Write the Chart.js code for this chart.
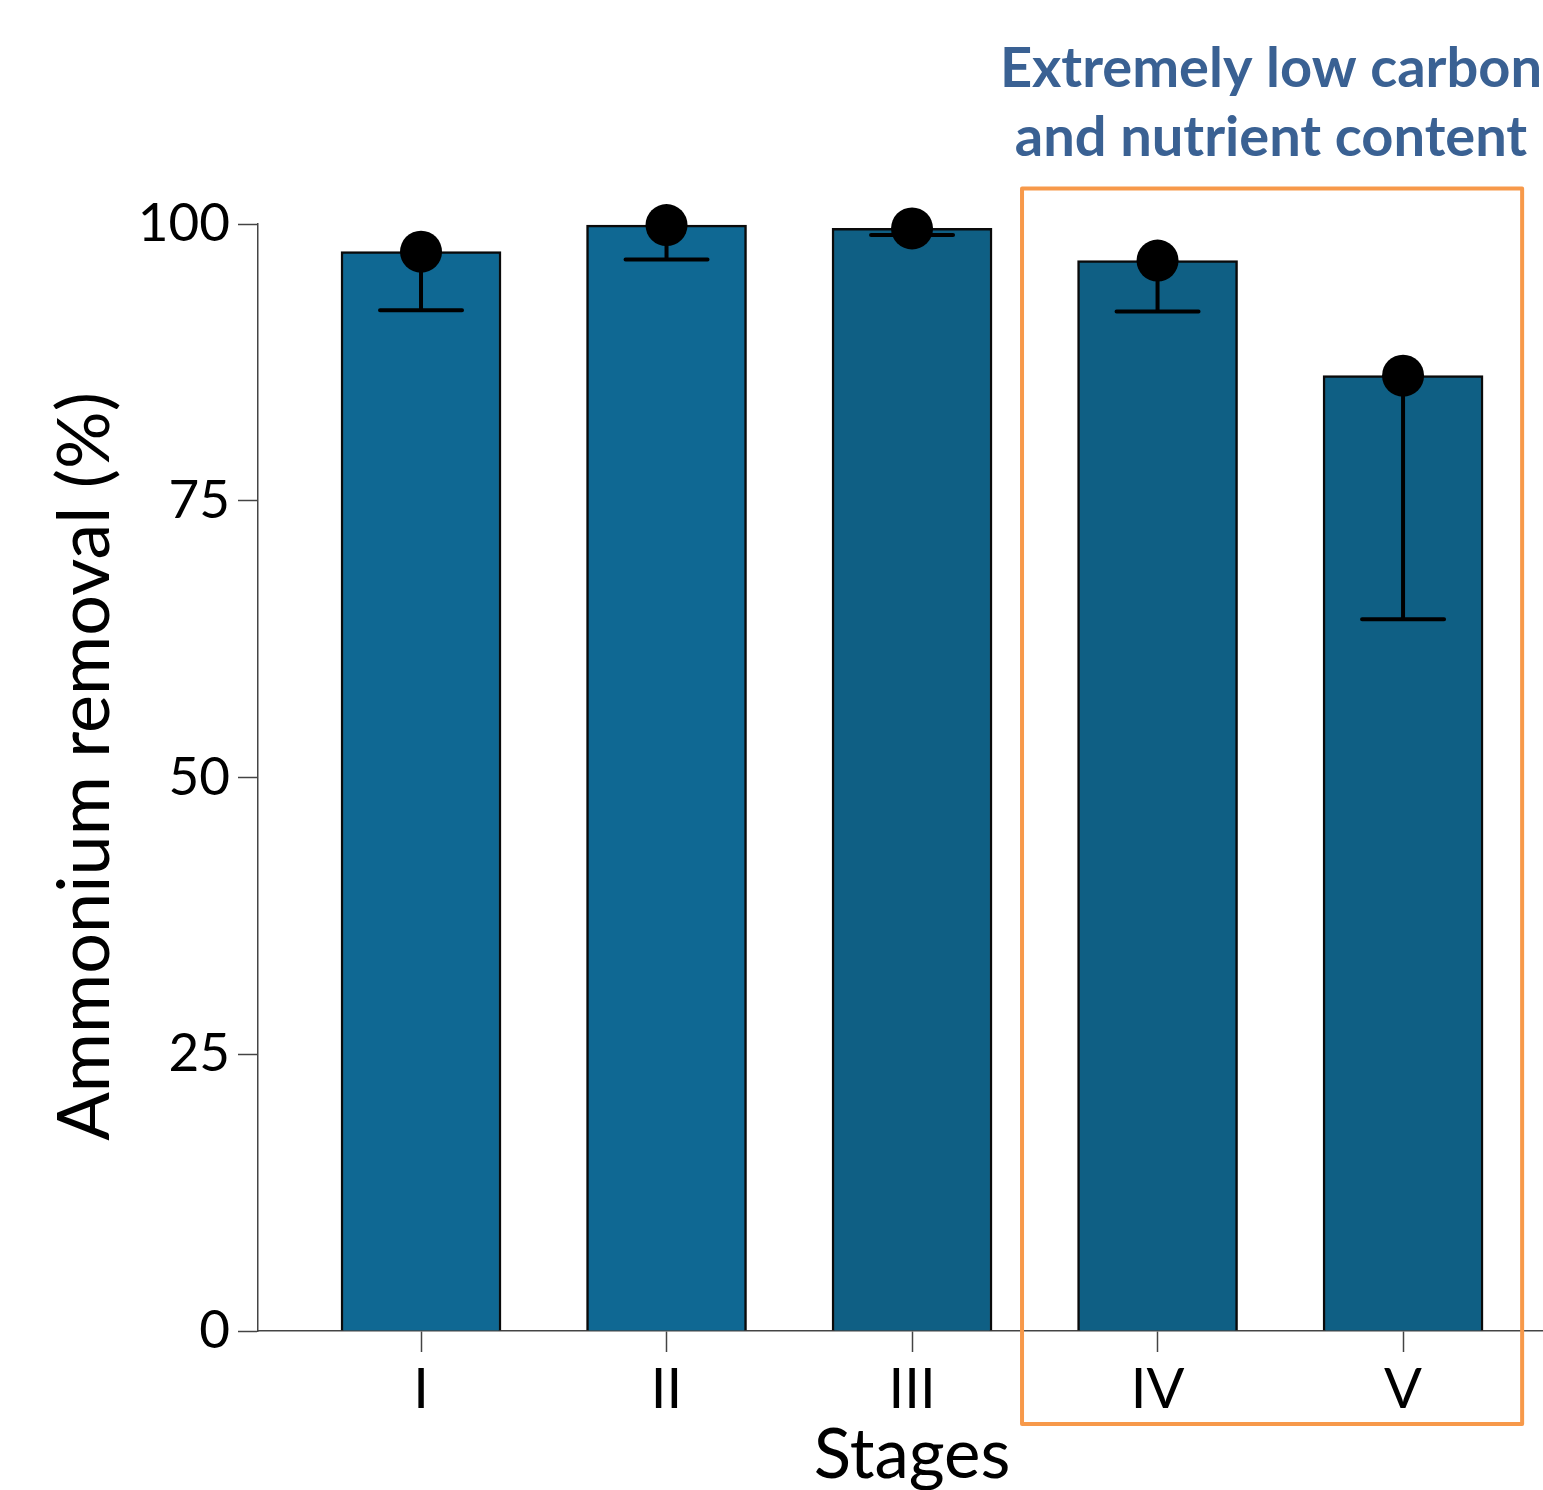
<!DOCTYPE html>
<html>
<head>
<meta charset="utf-8">
<title>Ammonium removal by stage</title>
<script src="https://cdn.jsdelivr.net/npm/chart.js@4.4.1/dist/chart.umd.min.js"></script>
<style>
    html, body { margin: 0; padding: 0; background: #ffffff; }
    canvas { display: block; }
</style>
</head>
<body>
<canvas id="chartRemoval" width="1543" height="1490"></canvas>
<script>
// stage positions on the x axis and their labels
const stagePositions = [1, 2, 3, 4, 5];
const stageLabels = ['I', 'II', 'III', 'IV', 'V'];

// mean ammonium removal (%) and lower end of the error bar
const removalMean = [97.5, 99.9, 99.6, 96.7, 86.3];
const removalLower = [92.2, 96.8, 99.0, 92.1, 64.3];

const yTicks = [0, 25, 50, 75, 100];

const barColors = ['#0f6893', '#0f6893', '#0f5f84', '#0f5f84', '#0f5f84'];

// highlighted region (stages IV and V)
const highlightText = ['Extremely low carbon', 'and nutrient content'];

const FONT = 'Lato, "Open Sans", sans-serif';

const errorBarPlugin = {
    id: 'errorBars',
    afterDatasetDraw(chart, args) {
        if (args.meta.type !== 'bar') return;
        const {ctx, scales: {x, y}} = chart;
        ctx.save();
        ctx.strokeStyle = '#000000';
        ctx.lineWidth = 4;
        ctx.lineCap = 'round';
        stagePositions.forEach((pos, i) => {
            const px = x.getPixelForValue(pos);
            const top = y.getPixelForValue(removalMean[i]);
            const bottom = y.getPixelForValue(removalLower[i]);
            ctx.beginPath();
            ctx.moveTo(px, top);
            ctx.lineTo(px, bottom);
            ctx.moveTo(px - 41, bottom);
            ctx.lineTo(px + 41, bottom);
            ctx.stroke();
        });
        ctx.restore();
    }
};

const highlightPlugin = {
    id: 'highlightBox',
    afterDraw(chart) {
        const {ctx, scales: {x, y}} = chart;
        const left = x.getPixelForValue(3.448);
        const right = x.getPixelForValue(5.485);
        const top = y.getPixelForValue(103.2);
        const bottom = y.getPixelForValue(-8.4);
        ctx.save();
        ctx.strokeStyle = '#f7994a';
        ctx.lineWidth = 4;
        ctx.lineJoin = 'round';
        ctx.strokeRect(left, top, right - left, bottom - top);

        ctx.fillStyle = '#3a6193';
        ctx.font = `700 56px ${FONT}`;
        ctx.textAlign = 'center';
        ctx.textBaseline = 'alphabetic';
        const cx = x.getPixelForValue(4.462);
        ctx.fillText(highlightText[0], cx, y.getPixelForValue(112.4));
        ctx.fillText(highlightText[1], cx, y.getPixelForValue(106.1));

        // x axis title, centred under the middle stage
        ctx.fillStyle = '#000000';
        ctx.font = `400 69px ${FONT}`;
        ctx.fillText('Stages', x.getPixelForValue(3), x.bottom - 12);

        // y axis title
        ctx.translate(86, y.getPixelForValue(51));
        ctx.rotate(-Math.PI / 2);
        ctx.font = `400 72px ${FONT}`;
        ctx.textBaseline = 'middle';
        ctx.fillText('Ammonium removal (%)', 0, 0);
        ctx.restore();
    }
};

const lineColor = '#444444';

new Chart(document.getElementById('chartRemoval').getContext('2d'), {
    data: {
        datasets: [
            {
                type: 'scatter',
                label: 'Mean',
                data: stagePositions.map((pos, i) => ({x: pos, y: removalMean[i]})),
                backgroundColor: '#000000',
                borderWidth: 0,
                pointRadius: 21,
                pointHoverRadius: 21,
                clip: false,
                order: 1
            },
            {
                type: 'bar',
                label: 'Ammonium removal',
                data: stagePositions.map((pos, i) => ({x: pos, y: removalMean[i]})),
                backgroundColor: barColors,
                borderColor: '#0a0a0a',
                borderWidth: 2.5,
                barThickness: 160,
                clip: false,
                order: 2
            }
        ]
    },
    options: {
        responsive: false,
        animation: false,
        layout: {
            autoPadding: false,
            padding: {left: 0, top: 224, right: 0, bottom: 0}
        },
        plugins: {
            legend: {display: false},
            tooltip: {enabled: false}
        },
        scales: {
            x: {
                type: 'linear',
                offset: false,
                min: 0.336,
                max: 5.570,
                afterBuildTicks: scale => {
                    scale.ticks = stagePositions.map(v => ({value: v}));
                },
                afterFit: scale => {
                    scale.height = 159;
                    scale.paddingLeft = 0;
                    scale.paddingRight = 0;
                },
                ticks: {
                    autoSkip: false,
                    maxRotation: 0,
                    padding: 4,
                    color: '#000000',
                    font: {family: FONT, size: 56, weight: '400'},
                    callback: value => stageLabels[stagePositions.indexOf(value)]
                },
                grid: {
                    offset: false,
                    drawOnChartArea: false,
                    drawTicks: true,
                    tickLength: 21,
                    tickColor: lineColor,
                    tickWidth: 1.5
                },
                border: {display: true, color: lineColor, width: 1.5},
                title: {display: false}
            },
            y: {
                type: 'linear',
                min: 0,
                max: 100,
                afterBuildTicks: scale => {
                    scale.ticks = yTicks.map(v => ({value: v}));
                },
                afterFit: scale => {
                    scale.width = 258;
                },
                ticks: {
                    padding: 8,
                    color: '#000000',
                    font: {family: FONT, size: 53, weight: '400'}
                },
                grid: {
                    drawOnChartArea: false,
                    drawTicks: true,
                    tickLength: 20,
                    tickColor: lineColor,
                    tickWidth: 1.5
                },
                border: {display: true, color: lineColor, width: 1.5},
                title: {display: false}
            }
        }
    },
    plugins: [errorBarPlugin, highlightPlugin]
});
</script>
</body>
</html>
